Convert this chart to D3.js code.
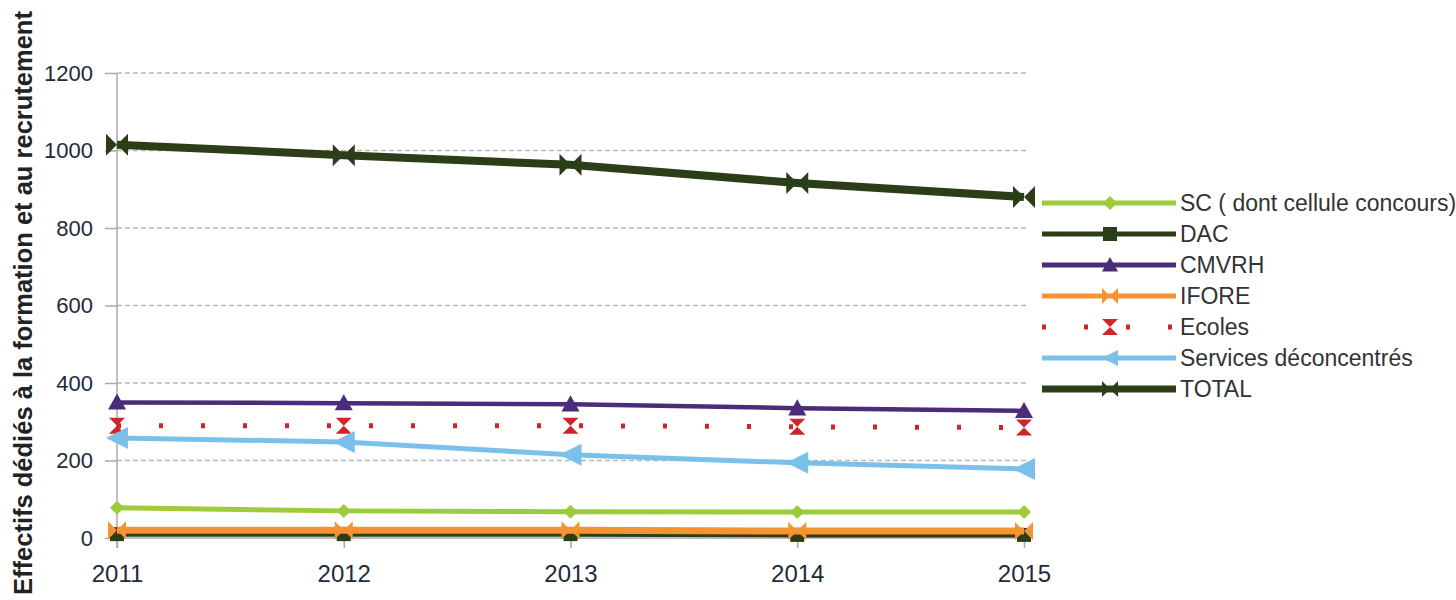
<!DOCTYPE html>
<html>
<head>
<meta charset="utf-8">
<title>Effectifs dédiés à la formation et au recrutement</title>
<script src="https://d3js.org/d3.v7.min.js"></script>
<style>
  body { margin: 0; background: #fff; }
  text { font-family: "Liberation Sans", Arial, sans-serif; }
</style>
</head>
<body>
<script>
// data
var years = [2011, 2012, 2013, 2014, 2015];
var yTicks = [0, 200, 400, 600, 800, 1000, 1200];
var seriesNames = ["SC ( dont cellule concours)", "DAC", "CMVRH", "IFORE", "Ecoles", "Services déconcentrés", "TOTAL"];
var scVals = [78, 70, 68, 67, 67];
var dacVals = [10, 10, 10, 8, 8];
var cmvrhVals = [350, 348, 345, 335, 328];
var iforeVals = [20, 20, 20, 18, 18];
var ecolesVals = [290, 290, 290, 287, 285];
var servicesVals = [258, 248, 215, 194, 178];
var totalVals = [1015, 988, 963, 916, 880];

var W = 1456, H = 600;
var x = d3.scaleLinear().domain([2011, 2015]).range([117, 1024]);
var y = d3.scaleLinear().domain([0, 1200]).range([538, 73]);

var svg = d3.select("body").append("svg").attr("width", W).attr("height", H);

// grid lines
svg.append("g").selectAll("line").data(yTicks.filter(function(d) { return d > 0; })).enter()
  .append("line")
  .attr("x1", 117).attr("x2", 1027)
  .attr("y1", function(d) { return y(d); }).attr("y2", function(d) { return y(d); })
  .attr("stroke", "#b9b9b9").attr("stroke-width", 1.3).attr("stroke-dasharray", "5,3");

// y axis
var yAxis = svg.append("g").attr("transform", "translate(117,0)")
  .call(d3.axisLeft(y).tickValues(yTicks).tickSize(12).tickPadding(12).tickFormat(d3.format("d")));
yAxis.select(".domain").attr("d", "M0,73V548").attr("stroke", "#aaa").attr("stroke-width", 1.5);
yAxis.selectAll(".tick line").attr("stroke", "#aaa").attr("stroke-width", 1.5);
yAxis.selectAll(".tick text").attr("font-size", 22).attr("fill", "#1e2a3a");

// x axis
var xAxis = svg.append("g").attr("transform", "translate(0,538)")
  .call(d3.axisBottom(x).tickValues(years).tickSize(10).tickPadding(0).tickFormat(d3.format("d")));
xAxis.select(".domain").attr("d", "M117,0H1027").attr("stroke", "#aaa").attr("stroke-width", 1.5);
xAxis.selectAll(".tick line").attr("stroke", "#aaa").attr("stroke-width", 1.5);
xAxis.selectAll(".tick text").attr("font-size", 24).attr("fill", "#1e2a3a")
  .attr("dy", null).attr("y", 44);

// y title
svg.append("text")
  .attr("transform", "translate(32,303) rotate(-90)")
  .attr("text-anchor", "middle")
  .attr("font-size", 25.5).attr("font-weight", "bold").attr("fill", "#222")
  .text("Effectifs dédiés à la formation et au recrutement");

// marker shapes
function diamond(s) { return "M0," + (-s) + "L" + s + ",0L0," + s + "L" + (-s) + ",0Z"; }
function square(s) { return "M" + (-s) + "," + (-s) + "h" + 2 * s + "v" + 2 * s + "h" + (-2 * s) + "Z"; }
function triUp(s) { return "M0," + (-s) + "L" + s + "," + s * 0.8 + "L" + (-s) + "," + s * 0.8 + "Z"; }
function triLeft(s) { return "M" + (-s) + ",0L" + s + "," + (-s) + "L" + s + "," + s + "Z"; }
function bowtie(s) { return "M" + (-s) + "," + (-s) + "L0,0L" + (-s) + "," + s + "Z M" + s + "," + (-s) + "L0,0L" + s + "," + s + "Z"; }
function hourglass(s) { return "M" + (-s) + "," + (-s) + "H" + s + "L0,0Z M" + (-s) + "," + s + "H" + s + "L0,0Z"; }

var series = [
  { name: seriesNames[0], vals: scVals, color: "#9dcb3b", width: 5, marker: diamond, size: 7 },
  { name: seriesNames[1], vals: dacVals, color: "#2b3e18", width: 5, marker: square, size: 7 },
  { name: seriesNames[2], vals: cmvrhVals, color: "#4a2c79", width: 4.5, marker: triUp, size: 9 },
  { name: seriesNames[3], vals: iforeVals, color: "#f39332", width: 7, marker: bowtie, size: 9 },
  { name: seriesNames[4], vals: ecolesVals, color: "#d0242b", width: 5, marker: hourglass, size: 8, dash: "4,38" },
  { name: seriesNames[5], vals: servicesVals, color: "#79c1eb", width: 5, marker: triLeft, size: 11 },
  { name: seriesNames[6], vals: totalVals, color: "#2b3e18", width: 8, marker: bowtie, size: 11 }
];

var line = d3.line().x(function(d, i) { return x(years[i]); }).y(function(d) { return y(d); });

series.forEach(function(s) {
  var g = svg.append("g");
  g.append("path").datum(s.vals)
    .attr("d", line)
    .attr("fill", "none").attr("stroke", s.color).attr("stroke-width", s.width)
    .attr("stroke-dasharray", s.dash || null);
  g.selectAll("path.m").data(s.vals).enter().append("path").attr("class", "m")
    .attr("transform", function(d, i) { return "translate(" + x(years[i]) + "," + y(d) + ")"; })
    .attr("d", s.marker(s.size)).attr("fill", s.color);
});

// legend
var leg = svg.append("g");
series.forEach(function(s, i) {
  var ly = 203 + i * 31;
  leg.append("line").attr("x1", 1042).attr("x2", 1176).attr("y1", ly).attr("y2", ly)
    .attr("stroke", s.color).attr("stroke-width", s === series[6] ? 7 : 5)
    .attr("stroke-dasharray", s.dash ? "4,38" : null);
  leg.append("path").attr("transform", "translate(1110," + ly + ")")
    .attr("d", s.marker(Math.min(s.size, 8))).attr("fill", s.color);
  leg.append("text").attr("x", 1180).attr("y", ly + 8)
    .attr("font-family", "Roboto, 'Liberation Sans', sans-serif")
    .attr("font-size", 23).attr("font-weight", 300).attr("fill", "#333")
    .text(s.name);
});
</script>
</body>
</html>
